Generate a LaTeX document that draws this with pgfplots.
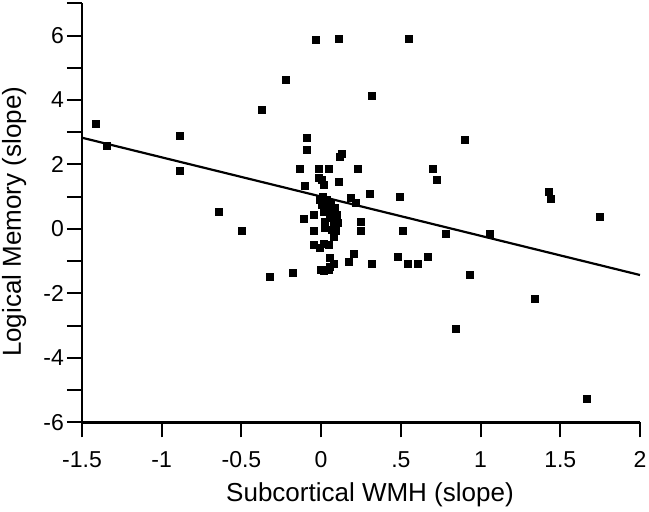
\documentclass[border=0pt]{standalone}
\usepackage{fontspec}
\setmainfont{Liberation Sans}
\usepackage{pgfplots}
\pgfplotsset{compat=1.18}
\pgfplotstableread{
x y
-1.414 3.25
-1.346 2.58
-0.889 2.88
-0.889 1.81
-0.643 0.52
-0.495 -0.07
-0.371 3.69
-0.219 4.61
-0.033 5.86
0.113 5.91
0.551 5.91
0.319 4.12
-0.087 2.82
-0.087 2.46
0.115 2.24
0.133 2.32
0.900 2.75
-0.134 1.87
-0.017 1.87
0.047 1.87
0.233 1.87
0.699 1.87
0.724 1.52
-0.017 1.57
0.004 1.52
0.016 1.37
0.112 1.45
-0.104 1.32
0.304 1.08
0.186 0.95
0.221 0.82
0.495 1.00
1.430 1.16
1.440 0.93
1.749 0.37
-0.105 0.30
-0.044 0.43
-0.047 -0.07
0.247 0.22
0.247 -0.07
0.511 -0.07
0.785 -0.14
1.060 -0.16
-0.006 0.90
0.036 0.90
0.004 0.74
0.046 0.69
0.088 0.64
0.015 0.53
0.067 0.48
0.098 0.43
0.056 0.33
0.025 0.22
0.077 0.17
0.102 0.19
0.025 0.02
0.067 -0.03
0.094 -0.07
0.077 -0.24
-0.048 -0.50
-0.006 -0.60
0.019 -0.45
0.048 -0.50
0.056 -0.91
0.077 -1.09
0.056 -1.17
0.019 -1.30
0.046 -1.26
0.203 -0.78
0.173 -1.01
0.320 -1.10
-0.324 -1.49
-0.179 -1.37
0.480 -0.86
0.547 -1.10
0.604 -1.10
0.672 -0.86
0.933 -1.43
1.340 -2.16
0.843 -3.11
1.664 -5.28
-0.002 -1.28
0.010 0.98
0.060 0.78
}\pts
\pgfplotstableread{
x y
-1.5 2.83
2.0 -1.43
}\fit
\begin{document}
\begin{tikzpicture}
\useasboundingbox (-41pt,-44.35pt) rectangle (283.5pt,211.15pt);
\begin{axis}[
  scale only axis,
  width=279pt, height=209.5pt,
  xmin=-1.5, xmax=2, ymin=-6, ymax=7,
  axis lines*=left,
  axis line style={line width=1.2pt},
  tick align=outside,
  major tick length=7.5pt,
  tick style={line width=1pt, black},
  xtick={-1.5,-1,-0.5,0,0.5,1,1.5,2},
  xticklabels={-1.5,-1,-0.5,0,.5,1,1.5,2},
  ytick={-6,-5,...,7},
  yticklabels={-6,,-4,,-2,,0,,2,,4,,6,{}},
  tick label style={font=\fontsize{11.5}{13}\selectfont},
  xticklabel style={anchor=base, yshift=-14.9pt},
  yticklabel style={anchor=east, xshift=2pt},
  xlabel={Subcortical WMH (slope)},
  ylabel={Logical Memory (slope)},
  label style={font=\fontsize{13}{15}\selectfont},
  xlabel style={at={([xshift=4.5pt,yshift=-39.8pt]axis description cs:0.5,0)}, anchor=base},
  ylabel style={at={([xshift=-30.5pt,yshift=-4.5pt]axis description cs:0,0.5)}, anchor=base, rotate=0},
  clip=false,
]
\addplot[only marks, mark=square*, mark size=1.75pt, mark options={draw=none, fill=black}] table[x=x,y=y] {\pts};
\addplot[black, line width=1.1pt] table[x=x,y=y] {\fit};
\end{axis}
\end{tikzpicture}
\end{document}
